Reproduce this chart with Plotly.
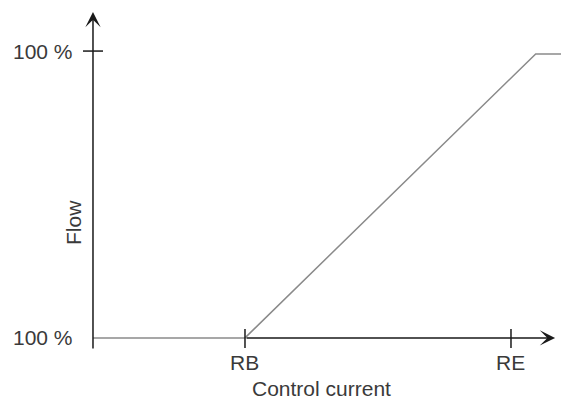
import plotly.graph_objects as go

# ---- data ----
control_current = [0.0, 4.0, 11.65, 12.4]   # origin, RB, saturation, edge
flow_pct = [0.0, 0.0, 99.0, 99.0]
x_tick_vals = [4.0, 11.0]
x_tick_text = ["RB", "RE"]
y_tick_vals = [0.0, 100.0]
y_tick_text = ["100 %", "100 %"]
x_title = "Control current"
y_title = "Flow"

# ---- layout constants ----
X_RANGE = [-2.447, 12.316]
Y_RANGE = [-21.3, 117.8]
X_ARROW_TIP = 12.16
Y_ARROW_TIP = 113.6
Y_AXIS_BOTTOM = -4.2

FONT = dict(family="Liberation Sans, Arial, sans-serif", size=21, color="#3a3a3a")
AXIS_COLOR = "#1a1a1a"
CURVE_COLOR = "#8a8a8a"

fig = go.Figure()
fig.add_trace(go.Scatter(x=control_current, y=flow_pct, mode="lines",
                         line=dict(color=CURVE_COLOR, width=1.5),
                         hoverinfo="skip", showlegend=False))

annotations = []
# axis arrows
annotations.append(dict(x=X_ARROW_TIP, y=0, ax=x_tick_vals[0], ay=0, axref="x", ayref="y",
                        xref="x", yref="y", text="", showarrow=True, arrowhead=3,
                        arrowwidth=1.5, arrowsize=1.7, arrowcolor=AXIS_COLOR, standoff=0))
annotations.append(dict(x=0, y=Y_ARROW_TIP, ax=0, ay=Y_AXIS_BOTTOM, axref="x", ayref="y",
                        xref="x", yref="y", text="", showarrow=True, arrowhead=3,
                        arrowwidth=1.5, arrowsize=1.7, arrowcolor=AXIS_COLOR, standoff=0))
# tick labels
for v, t in zip(x_tick_vals, x_tick_text):
    annotations.append(dict(x=v, y=0, xref="x", yref="y", text=t, showarrow=False,
                            xanchor="center", yanchor="middle",
                            yshift=-25, font=FONT))
for v, t in zip(y_tick_vals, y_tick_text):
    annotations.append(dict(x=0, y=v, xref="x", yref="y", text=t, showarrow=False,
                            xanchor="right", yanchor="middle", xshift=-18, font=FONT))
# titles
annotations.append(dict(x=321 / 561, y=1 - 388 / 399, xref="paper", yref="paper",
                        text=x_title, showarrow=False, xanchor="center", yanchor="middle",
                        font=FONT))
annotations.append(dict(x=73 / 561, y=1 - 223 / 399, xref="paper", yref="paper",
                        text=y_title, showarrow=False, textangle=-90,
                        xanchor="center", yanchor="middle", font=FONT))

shapes = []
for v in x_tick_vals:
    shapes.append(dict(type="line", xref="x", yref="y", x0=v, x1=v,
                       ysizemode="pixel", yanchor=0, y0=-10, y1=9,
                       line=dict(color=AXIS_COLOR, width=1.5)))
shapes.append(dict(type="line", xref="x", yref="y", y0=100, y1=100,
                   xsizemode="pixel", xanchor=0, x0=-10, x1=10,
                   line=dict(color=AXIS_COLOR, width=1.5)))

fig.update_layout(
    width=561, height=399,
    margin=dict(l=0, r=0, t=0, b=0),
    paper_bgcolor="white", plot_bgcolor="white",
    xaxis=dict(range=X_RANGE, visible=False, fixedrange=True),
    yaxis=dict(range=Y_RANGE, visible=False, fixedrange=True),
    annotations=annotations, shapes=shapes,
    showlegend=False,
)

fig.write_html("out.html",
               config={"displayModeBar": False},
               post_script="document.body.style.margin='0';document.body.style.overflow='hidden';")
